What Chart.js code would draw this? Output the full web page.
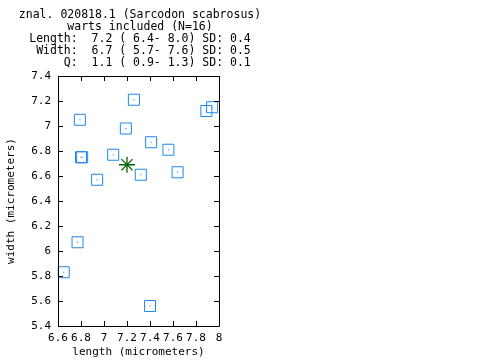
<!DOCTYPE html>
<html>
<head>
<meta charset="utf-8">
<script src="https://cdn.jsdelivr.net/npm/chart.js@4/dist/chart.umd.min.js"></script>
<style>
    body { margin: 0; background: #fff; }
    canvas { display: block; }
</style>
</head>
<body>
<canvas id="spore-chart" width="480" height="360"></canvas>
<script>
// measured warts (micrometers)
const lengths = [7.26, 6.79, 7.19, 7.41, 7.56, 6.80, 6.81, 7.08, 6.94, 7.32, 7.64, 7.89, 7.94, 6.77, 6.65, 7.40];
const widths  = [7.21, 7.05, 6.98, 6.87, 6.81, 6.75, 6.75, 6.77, 6.57, 6.61, 6.63, 7.12, 7.15, 6.07, 5.83, 5.56];
const meanLength = 7.2;
const meanWidth = 6.69;

const xTicks = [6.6, 6.8, 7.0, 7.2, 7.4, 7.6, 7.8, 8.0];
const xTickLabels = ["6.6", "6.8", "7", "7.2", "7.4", "7.6", "7.8", "8"];
const yTicks = [5.4, 5.6, 5.8, 6.0, 6.2, 6.4, 6.6, 6.8, 7.0, 7.2, 7.4];
const yTickLabels = ["5.4", "5.6", "5.8", "6", "6.2", "6.4", "6.6", "6.8", "7", "7.2", "7.4"];

const titleLines = [
    "znal. 020818.1 (Sarcodon scabrosus)",
    "warts included (N=16)",
    "Length:  7.2 ( 6.4- 8.0) SD: 0.4",
    " Width:  6.7 ( 5.7- 7.6) SD: 0.5",
    "     Q:  1.1 ( 0.9- 1.3) SD: 0.1"
];

const MONO = "'DejaVu Sans Mono', 'Liberation Mono', monospace";

// box + inward ticks on all four sides, and the title text
const framePlugin = {
    id: "frame",
    afterDraw(chart) {
        const ctx = chart.ctx;
        const a = chart.chartArea;
        const xs = chart.scales.x;
        const ys = chart.scales.y;
        ctx.save();
        ctx.strokeStyle = "#000";
        ctx.lineWidth = 1;
        ctx.beginPath();
        ctx.rect(a.left + 0.5, a.top + 0.5, a.right - a.left, a.bottom - a.top);
        xTicks.forEach(v => {
            const px = Math.round(xs.getPixelForValue(v)) + 0.5;
            ctx.moveTo(px, a.bottom); ctx.lineTo(px, a.bottom - 5);
            ctx.moveTo(px, a.top); ctx.lineTo(px, a.top + 5);
        });
        yTicks.forEach(v => {
            const py = Math.round(ys.getPixelForValue(v)) + 0.5;
            ctx.moveTo(a.left, py); ctx.lineTo(a.left + 5, py);
            ctx.moveTo(a.right, py); ctx.lineTo(a.right - 5, py);
        });
        ctx.stroke();

        ctx.fillStyle = "#000";
        ctx.font = "11.5px " + MONO;
        ctx.textAlign = "center";
        ctx.textBaseline = "middle";
        titleLines.forEach((line, i) => {
            ctx.fillText(line, 140, 15 + i * 12);
        });
        ctx.restore();
    }
};

const ctx = document.getElementById("spore-chart").getContext("2d");
const points = lengths.map((l, i) => ({ x: l, y: widths[i] }));

new Chart(ctx, {
    type: "scatter",
    data: {
        datasets: [
            {
                label: "warts",
                data: points,
                pointStyle: "rect",
                pointRadius: 7.8,
                borderColor: "#1e88f0",
                backgroundColor: "rgba(0,0,0,0)",
                borderWidth: 1,
                clip: false
            },
            {
                label: "centres",
                data: points,
                pointStyle: "rect",
                pointRadius: 0.8,
                borderWidth: 0,
                backgroundColor: "#1e88f0",
                clip: false
            },
            {
                label: "mean",
                data: [{ x: meanLength, y: meanWidth }],
                pointStyle: "star",
                pointRadius: 8,
                borderColor: "#006400",
                backgroundColor: "#006400",
                borderWidth: 1.3,
                clip: false
            }
        ]
    },
    options: {
        responsive: false,
        animation: false,
        events: [],
        layout: { padding: { top: 76, right: 261, left: 0, bottom: 0 } },
        plugins: {
            legend: { display: false },
            tooltip: { enabled: false }
        },
        scales: {
            x: {
                type: "linear",
                min: 6.6,
                max: 8.0,
                afterBuildTicks: s => { s.ticks = xTicks.map(v => ({ value: v })); },
                afterFit: s => { s.height = 34; },
                grid: { display: false, drawTicks: false },
                border: { display: false },
                ticks: {
                    autoSkip: false,
                    maxRotation: 0,
                    padding: 6,
                    color: "#000",
                    font: { family: MONO, size: 11 },
                    callback: (v, i) => xTickLabels[i]
                },
                title: {
                    display: true,
                    text: "length (micrometers)",
                    color: "#000",
                    font: { family: MONO, size: 11 },
                    padding: { top: 0, bottom: 1 }
                }
            },
            y: {
                type: "linear",
                min: 5.4,
                max: 7.4,
                afterBuildTicks: s => { s.ticks = yTicks.map(v => ({ value: v })); },
                afterFit: s => { s.width = 58; },
                grid: { display: false, drawTicks: false },
                border: { display: false },
                ticks: {
                    autoSkip: false,
                    padding: 7,
                    color: "#000",
                    font: { family: MONO, size: 11 },
                    callback: (v, i) => yTickLabels[i]
                },
                title: {
                    display: true,
                    text: "width (micrometers)",
                    color: "#000",
                    font: { family: MONO, size: 11 },
                    padding: { top: 5, bottom: 0 }
                }
            }
        }
    },
    plugins: [framePlugin]
});
</script>
</body>
</html>
